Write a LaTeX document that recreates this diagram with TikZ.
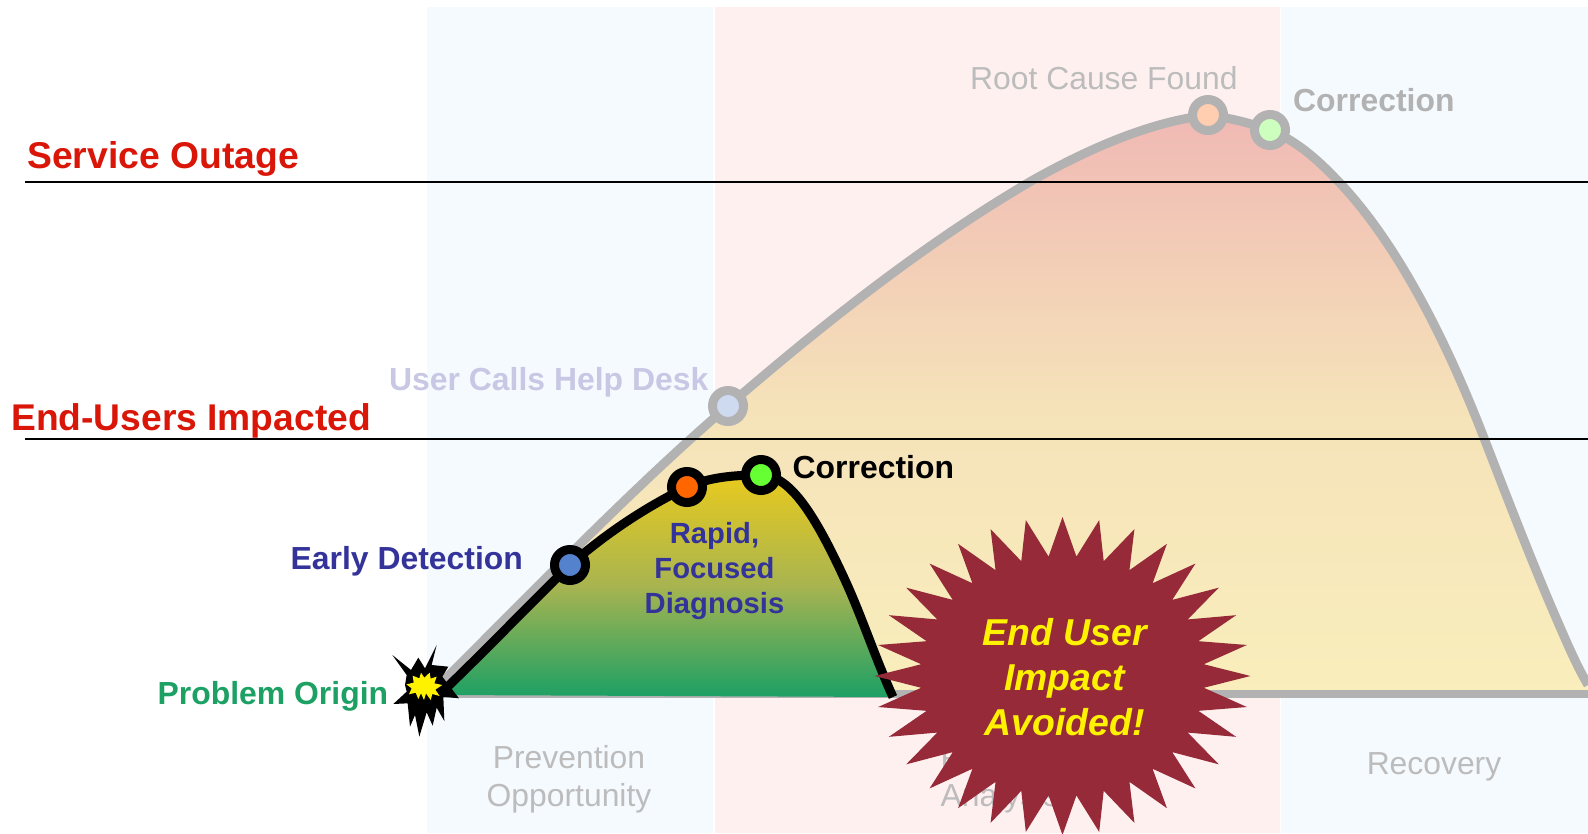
\documentclass[tikz,border=0pt]{standalone}
\usepackage{fontspec}
\setmainfont{Liberation Sans}
\definecolor{panelblue}{RGB}{245,250,255}
\definecolor{panelpink}{RGB}{255,240,240}
\definecolor{fadegrey}{RGB}{178,178,178}
\definecolor{labelgrey}{RGB}{188,188,188}
\definecolor{labelred}{RGB}{217,22,8}
\definecolor{labelblue}{RGB}{51,51,153}
\definecolor{labelgreen}{RGB}{28,160,100}
\definecolor{labellav}{RGB}{200,200,228}
\definecolor{starred}{RGB}{150,42,56}
\definecolor{bigtop}{RGB}{240,185,180}
\definecolor{bigmid}{RGB}{245,226,185}
\definecolor{bigbot}{RGB}{249,238,188}
\definecolor{smalltop}{RGB}{232,202,30}
\definecolor{smallmid}{RGB}{168,180,80}
\definecolor{smallbot}{RGB}{28,160,100}
\tikzset{
  txt/.style={inner sep=0pt,anchor=base west},
  ctr/.style={inner sep=0pt,anchor=base},
  reg/.style={font=\fontsize{31.85}{31.85}\selectfont},
  bld/.style={font=\fontsize{31.9}{31.9}\selectfont\bfseries},
  mile/.style={circle,draw=black,line width=9pt,minimum size=31pt,inner sep=0pt},
  fade/.style={circle,draw=fadegrey,line width=9pt,minimum size=31pt,inner sep=0pt},
}
\begin{document}
\begin{tikzpicture}[x=1pt,y=-1pt]
\useasboundingbox (0,0) rectangle (1588,833);
\fill[white] (0,0) rectangle (1588,833);
% panels
\fill[panelblue] (427,7) rectangle (713,833);
\fill[panelpink] (714.5,7) rectangle (1280,833);
\fill[panelblue] (1281,7) rectangle (1588,833);
\node[ctr,reg,text=labelgrey] (prev1) at (569,768) {Prevention};
\node[ctr,reg,text=labelgrey] (prev2) at (569,806) {Opportunity};
\node[ctr,reg,text=labelgrey] (prob1) at (1000,768) {Problem};
\node[ctr,reg,text=labelgrey] (prob2) at (1000,806) {Analysis};
\node[ctr,reg,text=labelgrey] (reco) at (1434,774) {Recovery};
% key points
\coordinate (o) at (440,694);
\coordinate (o2) at (432,692);
\coordinate (hd) at (728,406);
\coordinate (rc) at (1208,115);
\coordinate (c2) at (1270,130);
\coordinate (e) at (1588,694);
\coordinate (det) at (570,565);
\coordinate (fd) at (687,487);
\coordinate (c1) at (761,475);
\coordinate (e1) at (893,697);
\coordinate (e1b) at (440,695);
% big curve
\path[top color=bigtop,bottom color=bigbot,middle color=bigmid]
  (o2) .. controls (525,600) and (630,490) .. (hd)
  .. controls (830,318) and (930,240) .. (1033,180)
  .. controls (1090,148) and (1150,122) .. (rc)
  .. controls (1230,118) and (1250,123) .. (c2)
  .. controls (1297,141) and (1318,160) .. (1337,180)
  .. controls (1400,245) and (1450,350) .. (1484,438)
  .. controls (1510,505) and (1535,570) .. (1560,627)
  .. controls (1570,650) and (1578,668) .. (1588,685)
  -- (e) -- cycle;
\draw[fadegrey,line width=9pt]
  (o2) .. controls (525,600) and (630,490) .. (hd)
  .. controls (830,318) and (930,240) .. (1033,180)
  .. controls (1090,148) and (1150,122) .. (rc)
  .. controls (1230,118) and (1250,123) .. (c2)
  .. controls (1297,141) and (1318,160) .. (1337,180)
  .. controls (1400,245) and (1450,350) .. (1484,438)
  .. controls (1510,505) and (1535,570) .. (1560,627)
  .. controls (1570,650) and (1578,668) .. (1588,685);
\draw[fadegrey,line width=8pt] (o) -- (e);
% thresholds
\coordinate (l1a) at (25,182); \coordinate (l1b) at (1588,182);
\coordinate (l2a) at (25,438.5); \coordinate (l2b) at (1588,438.5);
\draw[black,line width=2pt] (l1a) -- (l1b);
\draw[black,line width=2pt] (l2a) -- (l2b);
% small curve
\path[top color=smalltop,bottom color=smallbot,middle color=smallmid]
  (o) .. controls (482,654) and (527,607) .. (det)
  .. controls (610,530) and (650,505) .. (fd)
  .. controls (710,477) and (735,475) .. (c1)
  .. controls (790,475) and (815,515) .. (845,580)
  .. controls (862,617) and (876,660) .. (e1)
  -- (e1b) -- cycle;
\draw[black,line width=9pt]
  (o) .. controls (482,654) and (527,607) .. (det)
  .. controls (610,530) and (650,505) .. (fd)
  .. controls (710,477) and (735,475) .. (c1)
  .. controls (790,475) and (815,515) .. (845,580)
  .. controls (862,617) and (876,660) .. (e1);
% milestone circles
\node[fade,fill={rgb,255:red,205;green,218;blue,240}] (nhd) at (hd) {};
\node[fade,fill={rgb,255:red,255;green,205;blue,175}] (nrc) at (rc) {};
\node[fade,fill={rgb,255:red,205;green,255;blue,190}] (nc2) at (c2) {};
\node[mile,fill={rgb,255:red,84;green,130;blue,205}] (ndet) at (det) {};
\node[mile,fill={rgb,255:red,255;green,102;blue,0}] (nfd) at (fd) {};
\node[mile,fill={rgb,255:red,102;green,255;blue,51}] (nc1) at (c1) {};
% explosion
\begin{scope}[shift={(385,635)},x=.3333pt,y=-.3333pt]
\fill[black] (155,30) -- (140,90) -- (190,95) -- (172,125) -- (222,190) -- (175,185) -- (178,258) -- (155,218) -- (143,272) -- (125,232) -- (103,305) -- (90,240) -- (75,275) -- (68,205) -- (25,207) -- (65,170) -- (60,150) -- (65,120) -- (22,60) -- (78,105) -- (100,68) -- (120,100) -- cycle;
\fill[yellow] (64,148) -- (86,143) -- (83,122) -- (103,130) -- (108,113) -- (118,128) -- (134,113) -- (137,131) -- (155,125) -- (148,145) -- (172,150) -- (151,164) -- (164,183) -- (142,177) -- (137,195) -- (123,175) -- (117,195) -- (108,175) -- (100,192) -- (92,173) -- (72,178) -- (80,160) -- cycle;
\end{scope}
% labels
\node[txt,text=labelred,font=\fontsize{37.3}{37.3}\selectfont\bfseries] (so) at (27,168) {Service Outage};
\node[txt,text=labelred,font=\fontsize{37.2}{37.2}\selectfont\bfseries] (eu) at (11,430) {End-Users Impacted};
\node[txt,bld,text=labellav] (uc) at (389,390) {User Calls Help Desk};
\node[txt,reg,text=labelgrey] (rcf) at (970,89) {Root Cause Found};
\node[txt,bld,text=fadegrey] (cg) at (1293,111) {Correction};
\node[txt,bld,text=black] (cb) at (792.5,478) {Correction};
\node[txt,bld,text=labelblue] (ed) at (290.5,569.5) {Early Detection};
\node[txt,bld,text=labelgreen] (po) at (157.5,704) {Problem Origin};
\node[ctr,text=labelblue,font=\fontsize{29.2}{29.2}\selectfont\bfseries] (r1) at (714.5,543) {Rapid,};
\node[ctr,text=labelblue,font=\fontsize{29.2}{29.2}\selectfont\bfseries] (r2) at (714.5,578) {Focused};
\node[ctr,text=labelblue,font=\fontsize{29.2}{29.2}\selectfont\bfseries] (r3) at (714.5,613) {Diagnosis};
% star
\fill[starred] plot[samples at={0,...,63},variable=\k]
  ({1062.5+(mod(\k,2)==0?188:142)*cos(\k*5.625)},{676+(mod(\k,2)==0?159:120)*sin(\k*5.625)}) -- cycle;
\node[ctr,text=yellow,font=\fontsize{37.4}{37.4}\selectfont\bfseries\itshape] (s1) at (1064.5,645) {End User};
\node[ctr,text=yellow,font=\fontsize{37.4}{37.4}\selectfont\bfseries\itshape] (s2) at (1064.5,690) {Impact};
\node[ctr,text=yellow,font=\fontsize{37.4}{37.4}\selectfont\bfseries\itshape] (s3) at (1064.5,735) {Avoided!};
\end{tikzpicture}
\end{document}
